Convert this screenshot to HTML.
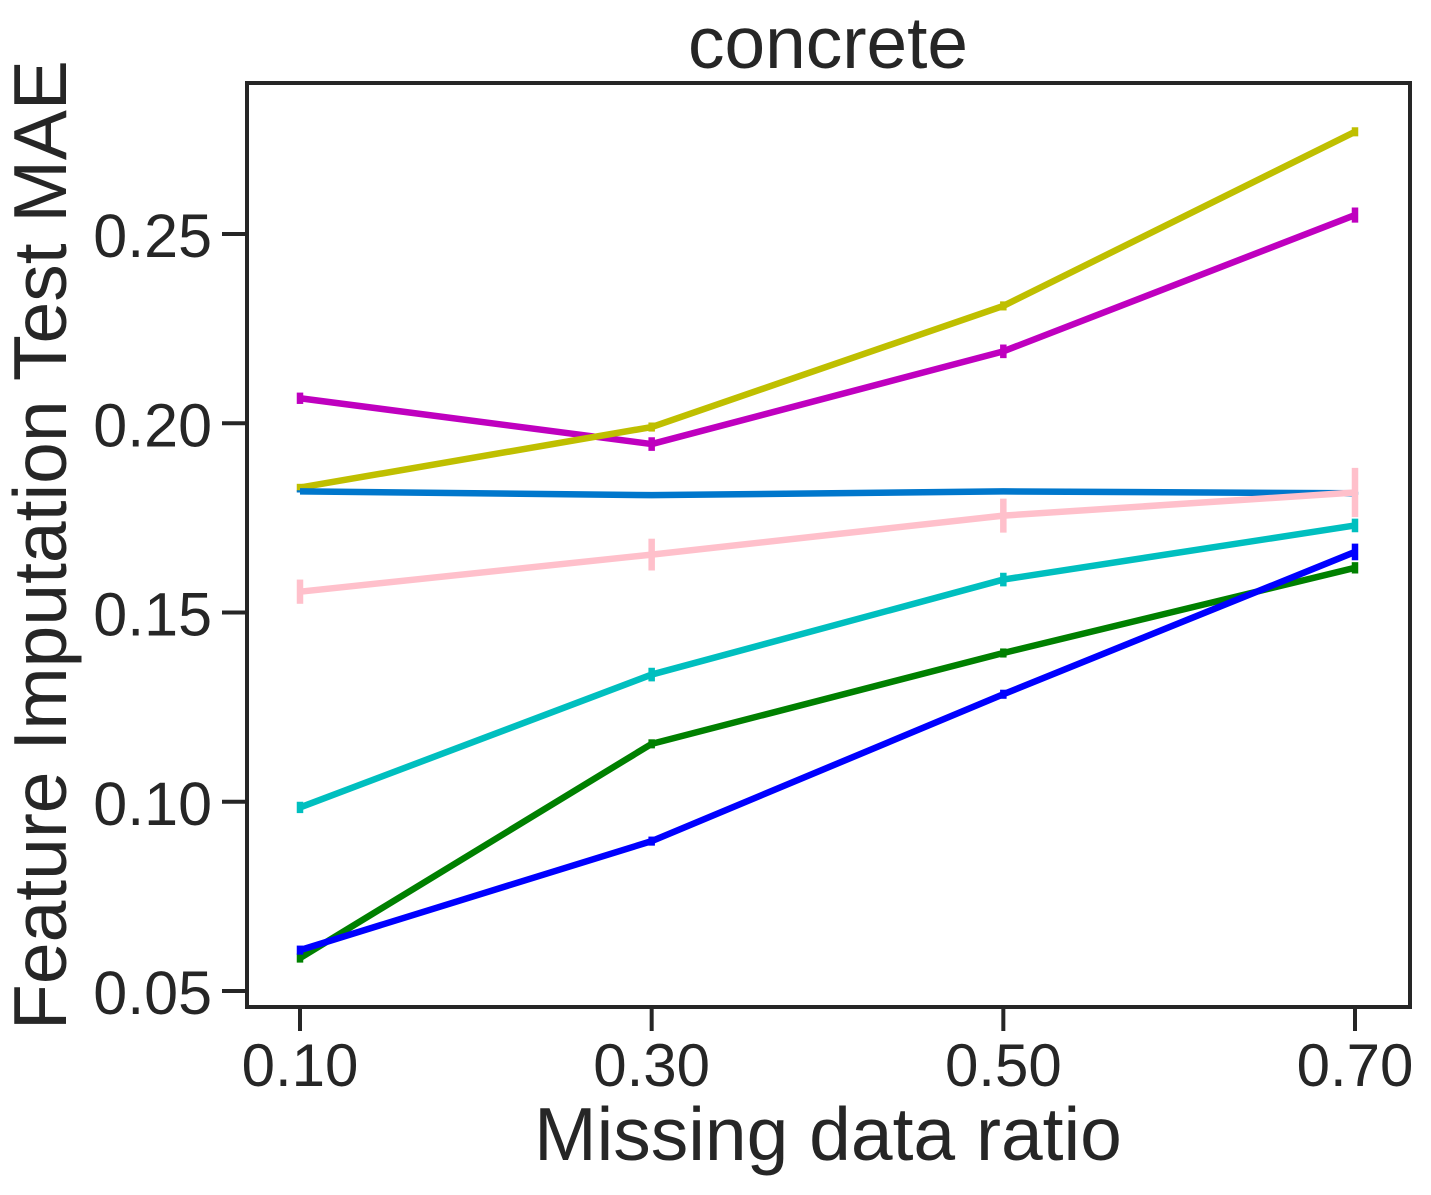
<!DOCTYPE html>
<html><head><meta charset="utf-8"><style>
body{margin:0;background:#fff;}
svg text{font-family:"Liberation Sans",Arial,sans-serif;fill:#262626;}
</style></head><body>
<svg id="chart" width="1431" height="1190" xmlns="http://www.w3.org/2000/svg">
<text x="828" y="68" font-size="73" text-anchor="middle">concrete</text>
<g id="marks"></g>
<rect x="247" y="83" width="1163" height="924" fill="none" stroke="#262626" stroke-width="4"/>
<g id="axes"></g>
<text x="828" y="1160" font-size="75" text-anchor="middle">Missing data ratio</text>
<text transform="translate(66,545) rotate(-90)" font-size="75" text-anchor="middle">Feature Imputation Test MAE</text>
</svg>
<script>
const categories=[0.1,0.3,0.5,0.7];
const xTickLabels=["0.10","0.30","0.50","0.70"];
const yTicks=[0.05,0.10,0.15,0.20,0.25];
const yTickLabels=["0.05","0.10","0.15","0.20","0.25"];
const seriesNames=["magenta","yellow","steelblue","pink","cyan","green","blue"];
const seriesColors=["#bf00bf","#bfbf00","#0077cc","#ffc0cb","#00bfbf","#008000","#0000ff"];
const magenta=[0.2066,0.1945,0.219,0.255];
const yellow=[0.183,0.199,0.231,0.277];
const steelblue=[0.182,0.181,0.182,0.1815];
const pink=[0.1555,0.1653,0.1756,0.1817];
const cyan=[0.0985,0.1336,0.1587,0.173];
const green=[0.0587,0.1153,0.1393,0.1618];
const blue=[0.0608,0.0896,0.1284,0.166];
const magentaErr=[0.0015,0.0018,0.0018,0.002];
const yellowErr=[0.001,0.0012,0.0012,0.0012];
const steelblueErr=[0.0003,0.0003,0.0003,0.0004];
const pinkErr=[0.0032,0.0042,0.0045,0.0065];
const cyanErr=[0.0015,0.0018,0.0018,0.0018];
const greenErr=[0.0012,0.0012,0.0012,0.0015];
const blueErr=[0.0012,0.0012,0.0012,0.0022];
const allSeries=[magenta,yellow,steelblue,pink,cyan,green,blue];
const allErr=[magentaErr,yellowErr,steelblueErr,pinkErr,cyanErr,greenErr,blueErr];
const NS="http://www.w3.org/2000/svg";
function xs(v){return 300+(v-0.1)*(1355-300)/0.6;}
function ys(v){return 991-(v-0.05)*(991-234)/0.2;}
function mk(tag,attrs,parent){const e=document.createElementNS(NS,tag);for(const k in attrs)e.setAttribute(k,attrs[k]);parent.appendChild(e);return e;}
const marks=document.getElementById('marks'),axes=document.getElementById('axes');
allSeries.forEach((s,i)=>{
  const g=mk('g',{},marks);
  
  
  const pts=s.map((v,j)=>xs(categories[j])+','+ys(v)).join(' ');
  const pl=mk('polyline',{points:pts,fill:'none',stroke:seriesColors[i],'stroke-width':6.5,'stroke-linejoin':'round'},g);
  
  
  s.forEach((v,j)=>{
    const e=allErr[i][j],x=xs(categories[j]);
    const eb=mk('line',{x1:x,x2:x,y1:ys(v-e),y2:ys(v+e),stroke:seriesColors[i],'stroke-width':6.5},g);
    
    
  });
});
categories.forEach((c,j)=>{
  const x=xs(c);
  const t=mk('line',{x1:x,x2:x,y1:1007,y2:1031,stroke:'#262626','stroke-width':4},axes);
  
  
  const l=mk('text',{x:x,y:1086,'font-size':60,'text-anchor':'middle'},axes);
  l.textContent=xTickLabels[j];
  
  
});
yTicks.forEach((v,j)=>{
  const y=ys(v);
  const t=mk('line',{x1:222,x2:247,y1:y,y2:y,stroke:'#262626','stroke-width':4},axes);
  
  
  const l=mk('text',{x:212,y:y+23,'font-size':61,'text-anchor':'end'},axes);
  l.textContent=yTickLabels[j];
  
  
});
</script>
</body></html>
